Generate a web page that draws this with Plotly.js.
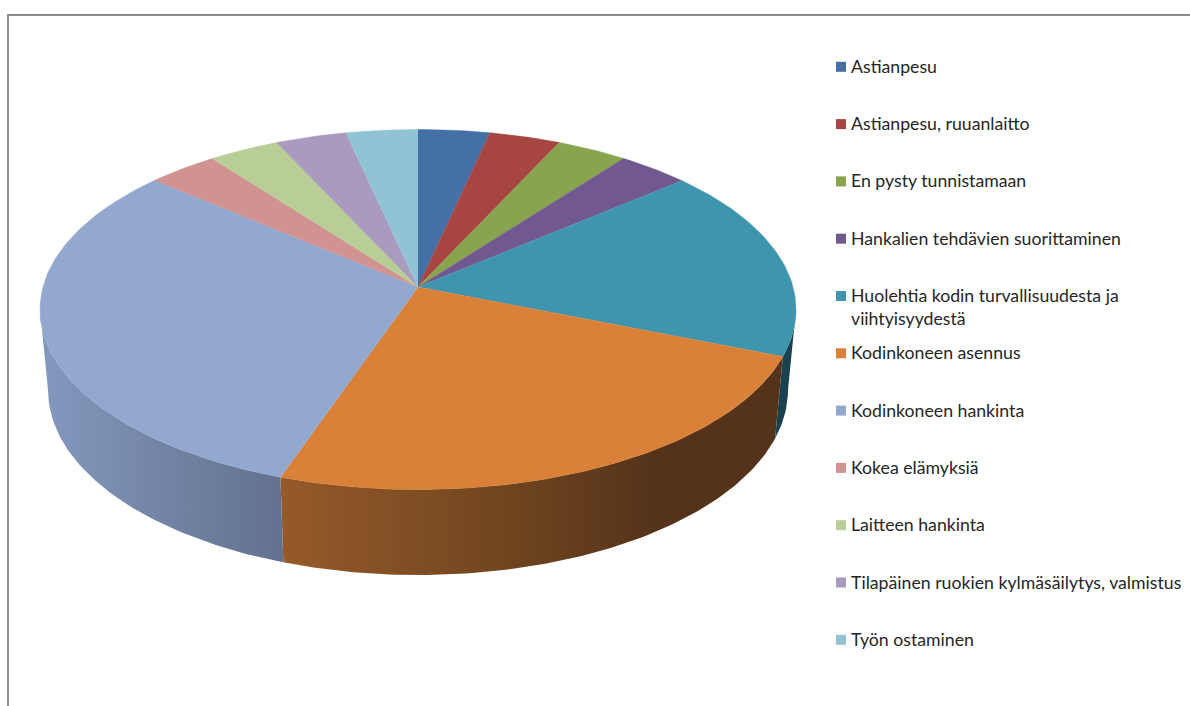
<!DOCTYPE html>
<html lang="fi">
<head>
<meta charset="utf-8">
<title>Kodinkoneet</title>
<script src="https://cdn.plot.ly/plotly-3.0.1.min.js"></script>
<style>html,body{margin:0;padding:0;background:#fff;overflow:hidden}#chart{width:1190px;height:706px}</style>
</head>
<body>
<div id="chart"></div>
<script>
// Shares of the pie, percent, clockwise from twelve o'clock
const categories = [
  "Astianpesu", "Astianpesu, ruuanlaitto", "En pysty tunnistamaan",
  "Hankalien tehdävien suorittaminen", "Huolehtia kodin turvallisuudesta ja<br>viihtyisyydestä",
  "Kodinkoneen asennus", "Kodinkoneen hankinta", "Kokea elämyksiä",
  "Laitteen hankinta", "Tilapäinen ruokien kylmäsäilytys, valmistus", "Työn ostaminen"
];
const shares = [3.05, 3.05, 3.05, 3.15, 16.9, 26.7, 31.8, 3.1, 3.05, 3.05, 3.05];
const topColors = ["#4470a5", "#a74542", "#89a44e", "#71588f", "#4095ae", "#d98039",
                   "#93a8cf", "#d19392", "#b9cd96", "#a99bbd", "#91c3d5"];
const sideColors = {
  4: [[0, "#1a4150"], [1, "#1a4150"]],
  5: [[0, "#965a2a"], [0.45, "#70451f"], [0.75, "#54331a"], [1, "#54331a"]],
  6: [[0, "#8399be"], [1, "#62718e"]]
};

// Projected disc: upper face, lower rim and the off-centre apex
const upper = {cx: 418, cy: 309.5, rx: 378, ry: 180};
const lower = {cx: 418, cy: 390, rx: 370, ry: 185};
const apex = {x: 418, y: 287};

const rim = (e, deg) => {
  const a = deg * Math.PI / 180;
  return [e.cx + e.rx * Math.sin(a), e.cy - e.ry * Math.cos(a)];
};
const arc = (e, from, to) => {
  const n = Math.max(2, Math.ceil(Math.abs(to - from)));
  return Array.from({length: n + 1}, (_, i) => rim(e, from + (to - from) * i / n));
};

const total = shares.reduce((s, v) => s + v, 0);
let running = 0;
const spans = shares.map(v => {
  const from = running / total * 360;
  running += v;
  return [from, running / total * 360];
});

const walls = [], faces = [];
spans.forEach(([from, to], i) => {
  // The side wall only shows on the near half of the disc
  const a = Math.max(from, 90), b = Math.min(to, 270);
  if (b > a && sideColors[i]) {
    const pts = arc(upper, a, b).concat(arc(lower, a, b).reverse());
    walls.push({
      type: "scatter", mode: "lines", hoverinfo: "skip",
      x: pts.map(p => p[0]), y: pts.map(p => p[1]),
      fill: "toself", line: {width: 0, color: "rgba(0,0,0,0)"},
      fillcolor: sideColors[i][0][1],
      fillgradient: {type: "horizontal", colorscale: sideColors[i]}
    });
  }
  const pts = [[apex.x, apex.y]].concat(arc(upper, from, to));
  faces.push({
    type: "scatter", mode: "lines", name: categories[i].replace("<br>", " "),
    x: pts.map(p => p[0]), y: pts.map(p => p[1]),
    fill: "toself", fillcolor: topColors[i],
    line: {width: 0.5, color: topColors[i]}, hoverinfo: "name"
  });
});

// Legend column
const legendTop = 66.8, legendStep = 57.3, swatchX = 841, labelX = 849.5;
const legendY = categories.map((_, i) => legendTop + i * legendStep);
const swatches = {
  type: "scatter", mode: "markers", hoverinfo: "skip",
  x: categories.map(() => swatchX), y: legendY,
  marker: {symbol: "square", size: 10, color: topColors, line: {width: 0}}
};
const labels = categories.map((c, i) => {
  const twoLines = c.includes("<br>");
  return {
    xref: "x", yref: "y", x: labelX, y: legendY[i] + (twoLines ? 11 : 0) - 0.5,
    text: c, showarrow: false, xanchor: "left", yanchor: "middle", align: "left",
    borderpad: 0, font: {family: "Lato, sans-serif", size: 17.7, color: "#262626"}
  };
});

const hidden = {visible: false, fixedrange: true};
Plotly.newPlot("chart", walls.concat(faces, [swatches]), {
  width: 1190, height: 706, showlegend: false,
  margin: {l: 0, r: 0, t: 0, b: 0},
  paper_bgcolor: "#fff", plot_bgcolor: "#fff",
  xaxis: Object.assign({range: [0, 1190]}, hidden),
  yaxis: Object.assign({range: [706, 0]}, hidden),
  annotations: labels,
  shapes: [
    {type: "line", xref: "x", yref: "y", x0: 8, x1: 1190, y0: 15, y1: 15, line: {color: "#8e8e8e", width: 2}},
    {type: "line", xref: "x", yref: "y", x0: 8, x1: 8, y0: 14, y1: 706, line: {color: "#8e8e8e", width: 2}}
  ]
}, {displayModeBar: false});
</script>
</body>
</html>
